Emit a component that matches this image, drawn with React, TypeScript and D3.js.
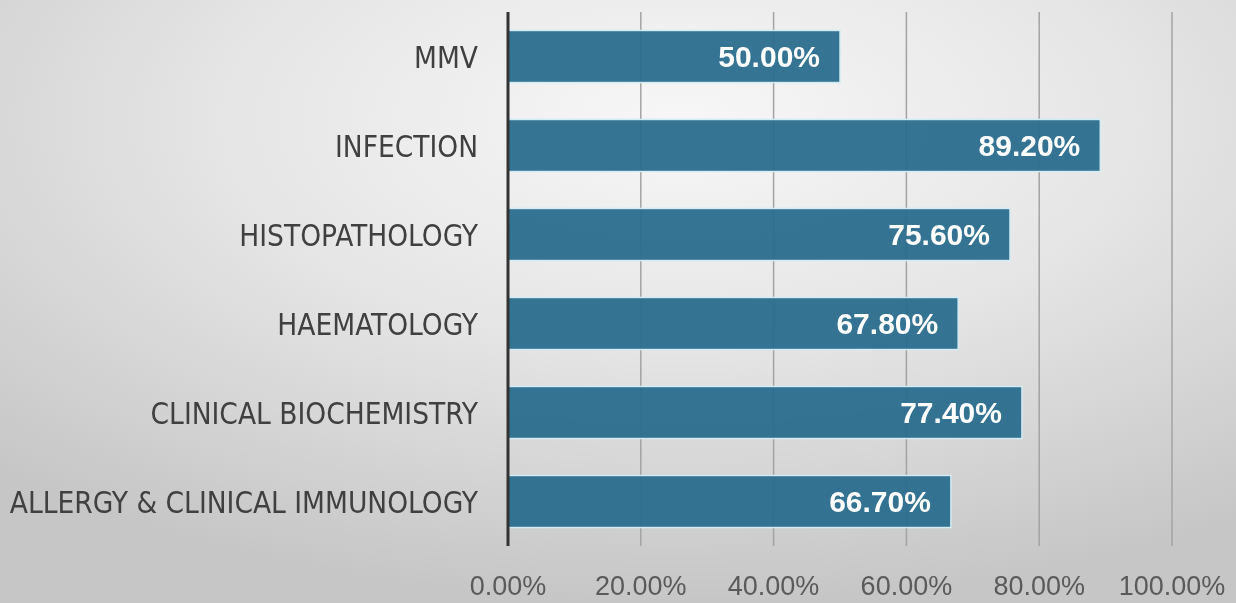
import { useEffect, useRef } from 'react';
import * as d3 from 'd3';

const categories = [
  'MMV',
  'INFECTION',
  'HISTOPATHOLOGY',
  'HAEMATOLOGY',
  'CLINICAL BIOCHEMISTRY',
  'ALLERGY & CLINICAL IMMUNOLOGY',
];
const values = [0.5, 0.892, 0.756, 0.678, 0.774, 0.667];
const ticks = [0, 0.2, 0.4, 0.6, 0.8, 1.0];

const W = 1236;
const H = 603;

export default function App() {
  const svgRef = useRef<SVGSVGElement>(null);

  useEffect(() => {
    if (!svgRef.current) return;
    const svg = d3.select(svgRef.current);
    svg.selectAll('*').remove();

    const defs = svg.append('defs');
    const grad = defs
      .append('radialGradient')
      .attr('id', 'bg')
      .attr('cx', 0.55)
      .attr('cy', 0.2)
      .attr('r', 0.8);
    grad.append('stop').attr('offset', '0%').attr('stop-color', '#f7f7f7');
    grad.append('stop').attr('offset', '45%').attr('stop-color', '#e6e6e6');
    grad.append('stop').attr('offset', '100%').attr('stop-color', '#c6c6c6');

    svg.append('rect').attr('width', W).attr('height', H).attr('fill', 'url(#bg)');

    const top = 12;
    const bottom = 546;
    const x = d3.scaleLinear().domain([0, 1]).range([508, 1172]);
    const y = d3
      .scaleBand<string>()
      .domain(categories)
      .range([top, bottom])
      .paddingInner(0.415)
      .paddingOuter(0.2075);

    // gridlines
    svg
      .append('g')
      .selectAll('line')
      .data(ticks.slice(1))
      .enter()
      .append('line')
      .attr('x1', d => x(d))
      .attr('x2', d => x(d))
      .attr('y1', top)
      .attr('y2', bottom)
      .attr('stroke', '#a3a3a3')
      .attr('stroke-width', 1.5);

    // bars
    svg
      .append('g')
      .selectAll('rect')
      .data(values)
      .enter()
      .append('rect')
      .attr('x', x(0))
      .attr('y', (d, i) => y(categories[i])!)
      .attr('width', d => x(d) - x(0))
      .attr('height', y.bandwidth())
      .attr('fill', '#2a6d8d')
      .attr('fill-opacity', 0.95)
      .attr('stroke', '#d2ebf5')
      .attr('stroke-width', 1.5);

    // value labels
    svg
      .append('g')
      .selectAll('text')
      .data(values)
      .enter()
      .append('text')
      .attr('x', d => x(d) - 20)
      .attr('y', (d, i) => y(categories[i])! + y.bandwidth() / 2)
      .attr('text-anchor', 'end')
      .attr('dominant-baseline', 'central')
      .attr('font-family', 'Liberation Sans, Arial, sans-serif')
      .attr('font-weight', 'bold')
      .attr('font-size', 30)
      .attr('fill', '#ffffff')
      .text(d => `${(d * 100).toFixed(2)}%`);

    // category labels
    svg
      .append('g')
      .selectAll('text')
      .data(categories)
      .enter()
      .append('text')
      .attr('x', 478)
      .attr('y', d => y(d)! + y.bandwidth() / 2 + 1)
      .attr('text-anchor', 'end')
      .attr('dominant-baseline', 'central')
      .attr('font-family', 'Liberation Sans Narrow, DejaVu Sans Condensed, sans-serif')
      .attr('font-size', 29.5)
      .attr('fill', '#404040')
      .text(d => d);

    // tick labels
    svg
      .append('g')
      .selectAll('text')
      .data(ticks)
      .enter()
      .append('text')
      .attr('x', d => x(d))
      .attr('y', 595)
      .attr('text-anchor', 'middle')
      .attr('font-family', 'Liberation Sans, Arial, sans-serif')
      .attr('font-size', 27)
      .attr('fill', '#5a5a5a')
      .text(d => `${(d * 100).toFixed(2)}%`);

    // axis line
    svg
      .append('line')
      .attr('x1', x(0))
      .attr('x2', x(0))
      .attr('y1', top)
      .attr('y2', bottom)
      .attr('stroke', '#333333')
      .attr('stroke-width', 3);
  }, []);

  return (
    <div style={{ position: 'fixed', left: 0, top: 0 }}>
      <svg ref={svgRef} width={W} height={H} />
    </div>
  );
}
